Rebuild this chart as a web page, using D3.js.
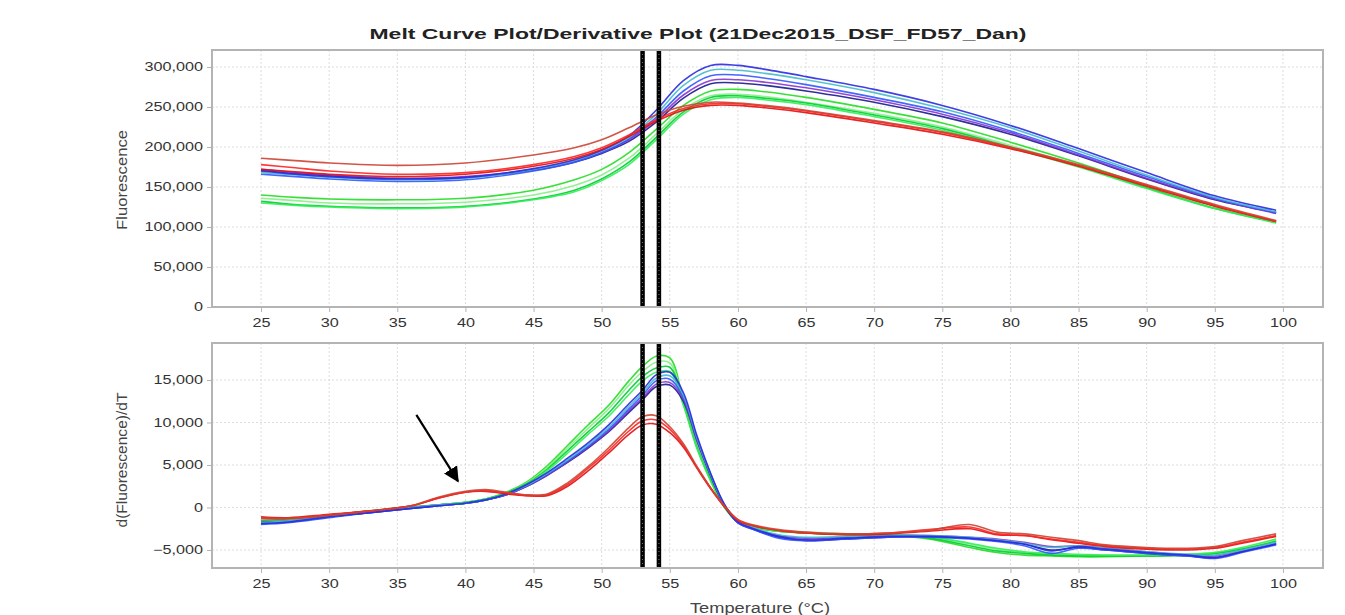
<!DOCTYPE html>
<html>
<head>
<meta charset="utf-8">
<script src="https://cdn.jsdelivr.net/npm/d3@7"></script>
<style>
  body { margin: 0; background: #fff; }
  text { font-family: Arial, "Liberation Sans", sans-serif; }
</style>
</head>
<body>
<svg id="chart" width="1345" height="615"></svg>
<script>
// temperatures (°C) for the two panels
var tempTop = [25, 27.5, 30, 35, 40, 45, 48, 50, 52, 54, 56, 58, 60, 62, 65, 70, 75, 80, 85, 90, 95, 99.5];
var tempDeriv = [25, 27, 30, 33, 36, 38, 40, 41.5, 43, 44.5, 46, 47.5, 49, 50.5, 52, 53, 54, 55, 56, 57, 58, 59, 60, 61, 63, 65, 68, 71, 74, 77, 79, 81, 83, 85, 87, 90, 93, 95, 97, 99.5];

// tick labels
var tempTicks = [25, 30, 35, 40, 45, 50, 55, 60, 65, 70, 75, 80, 85, 90, 95, 100];
var fluorTicks = [0, 50000, 100000, 150000, 200000, 250000, 300000];
var derivTicks = [-5000, 0, 5000, 10000, 15000];

// melt curves (fluorescence)
var fluorGreen1 = [140000,137000,135000,134000,136000,146000,159000,172000,193000,222000,252000,270000,272000,269000,262000,247000,230000,206000,180000,152000,126000,107000];
var fluorGreen2 = [136000,133000,130000,129000,131000,140000,152000,165000,186000,216000,247000,264000,266000,263000,256000,242000,225000,202000,177000,150000,124000,106000];
var fluorGreen3 = [132000,128000,126000,124000,126000,135000,146000,160000,181000,212000,244000,262000,264000,261000,255000,240000,223000,200000,176000,149000,123000,106000];
var fluorGreen4 = [130000,127000,125000,123000,125000,134000,144000,158000,178000,209000,241000,259000,262000,259000,253000,238000,221000,199000,175000,148000,123000,105000];
var fluorBlue1 = [170000,166000,163000,160000,162000,173000,184000,196000,214000,246000,283000,302000,302000,297000,288000,272000,252000,227000,198000,168000,139000,121000];
var fluorCyan = [168000,165000,162000,159000,161000,172000,183000,195000,212000,241000,277000,296000,296000,292000,284000,268000,248000,224000,195000,165000,137000,119000];
var fluorBlue2 = [166000,163000,160000,157000,159000,170000,181000,193000,210000,237000,270000,289000,290000,286000,278000,262000,244000,220000,192000,163000,136000,118000];
var fluorPurple = [172000,168000,165000,161000,163000,172000,182000,193000,209000,234000,265000,283000,284000,281000,274000,259000,241000,218000,190000,161000,135000,117000];
var fluorNavy = [171000,167000,164000,160000,162000,171000,181000,192000,207000,231000,261000,279000,280000,277000,270000,256000,238000,216000,189000,160000,134000,118000];
var fluorRed1 = [186000,183000,180000,177000,180000,190000,199000,209000,224000,240000,251000,256000,255000,252000,246000,233000,219000,200000,178000,153000,128000,108000];
var fluorRed2 = [178000,174000,170000,166000,168000,178000,188000,199000,215000,234000,248000,254000,254000,251000,245000,232000,218000,199000,177000,152000,127000,107000];
var fluorRed3 = [172000,169000,166000,163000,166000,176000,186000,197000,213000,232000,246000,252000,252000,249000,243000,230000,216000,198000,176000,151000,126000,107000];

// derivative curves d(F)/dT
var derivGreen1 = [-1600,-1500,-1000,-500,0,300,600,1000,1800,3000,4900,7300,9700,12000,14900,16600,17800,17600,12600,7200,3300,200,-1600,-2200,-2800,-3000,-3200,-3300,-3700,-4700,-5300,-5600,-5700,-5800,-5800,-5700,-5600,-5400,-4900,-3900];
var derivGreen2 = [-1800,-1600,-1100,-500,0,300,600,1000,1700,2900,4700,7000,9300,11600,14400,16000,17100,17000,12400,7100,3200,100,-1600,-2200,-2700,-2900,-3100,-3200,-3500,-4300,-4900,-5300,-5500,-5600,-5600,-5600,-5500,-5300,-4800,-3800];
var derivGreen3 = [-1500,-1400,-900,-400,100,300,600,1000,1700,2800,4500,6700,8900,11100,13800,15400,16400,16500,12200,7000,3200,100,-1700,-2300,-2800,-3000,-3200,-3300,-3600,-4500,-5100,-5400,-5600,-5700,-5700,-5700,-5600,-5400,-4900,-4000];
var derivGreen4 = [-1700,-1500,-1000,-500,0,300,600,1000,1600,2700,4300,6400,8600,10700,13300,14900,15900,16000,12000,6900,3100,0,-1700,-2300,-2800,-3000,-3100,-3200,-3400,-4200,-4800,-5200,-5400,-5500,-5600,-5600,-5500,-5300,-4700,-3700];
var derivBlue1 = [-1900,-1700,-1100,-600,-100,200,500,900,1600,2700,4100,5800,7600,9700,12200,13800,15600,15900,13500,8400,4000,400,-1700,-2400,-3400,-3800,-3600,-3400,-3400,-3600,-3900,-4300,-5100,-4600,-4900,-5300,-5600,-5900,-5200,-4300];
var derivCyan = [-1800,-1600,-1100,-500,0,300,500,900,1600,2600,4000,5600,7400,9400,11900,13500,15200,15500,13200,8200,3900,400,-1600,-2300,-3200,-3500,-3400,-3300,-3300,-3500,-3800,-4200,-4700,-4500,-4800,-5200,-5500,-5600,-5000,-4100];
var derivBlue2 = [-2000,-1800,-1200,-600,-100,200,500,900,1500,2600,3900,5500,7200,9200,11600,13200,14900,15100,13000,8100,3900,300,-1800,-2500,-3600,-3900,-3700,-3500,-3500,-3700,-4000,-4500,-5400,-4800,-5000,-5400,-5700,-6000,-5300,-4400];
var derivPurple = [-1700,-1600,-1100,-500,0,300,500,900,1500,2500,3800,5400,7100,9000,11400,12900,14500,14700,12700,7900,3800,300,-1700,-2400,-3300,-3600,-3500,-3300,-3300,-3500,-3700,-4100,-4600,-4500,-4800,-5200,-5600,-5700,-5100,-4200];
var derivNavy = [-1800,-1700,-1100,-600,-100,200,500,900,1500,2500,3800,5300,7000,8900,11200,12700,14200,14400,12500,7800,3700,200,-1800,-2500,-3500,-3900,-3700,-3500,-3400,-3600,-3900,-4300,-5000,-4700,-5000,-5400,-5700,-5900,-5200,-4300];
var derivRed1 = [-1200,-1300,-900,-400,200,1200,1900,2100,1800,1500,1600,2900,4800,7000,9400,10700,10800,9500,7500,4800,2300,200,-1400,-2000,-2600,-2900,-3100,-3000,-2700,-2000,-2900,-3100,-3500,-3900,-4400,-4700,-4800,-4600,-3900,-3100];
var derivRed2 = [-1300,-1300,-900,-400,200,1100,1800,2000,1700,1400,1500,2700,4600,6700,9000,10200,10300,9200,7300,4700,2300,200,-1500,-2100,-2700,-3000,-3100,-3000,-2600,-2300,-3100,-3300,-3700,-4100,-4500,-4800,-4900,-4700,-4100,-3300];
var derivRed3 = [-1100,-1200,-800,-400,200,1100,1800,1900,1600,1400,1400,2500,4300,6400,8600,9700,9800,8800,7100,4600,2200,100,-1500,-2100,-2700,-3000,-3200,-3100,-2800,-2500,-3200,-3300,-3800,-4200,-4600,-4900,-5000,-4800,-4200,-3400];

// melt temperature markers and the annotation arrow (data coordinates)
var meltTemps = [53.0, 54.2];
var arrowStart = [36.4, 10900];
var arrowTip = [39.45, 3100];

var series = [
  {color: "#22dd22", fluor: fluorGreen1, deriv: derivGreen1},
  {color: "#88ee88", fluor: fluorGreen2, deriv: derivGreen2},
  {color: "#00cc33", fluor: fluorGreen3, deriv: derivGreen3},
  {color: "#33ee55", fluor: fluorGreen4, deriv: derivGreen4},
  {color: "#1a1a90", fluor: fluorNavy, deriv: derivNavy},
  {color: "#8833cc", fluor: fluorPurple, deriv: derivPurple},
  {color: "#3355ff", fluor: fluorBlue2, deriv: derivBlue2},
  {color: "#44bbcc", fluor: fluorCyan, deriv: derivCyan},
  {color: "#2a2ae0", fluor: fluorBlue1, deriv: derivBlue1},
  {color: "#e01010", fluor: fluorRed3, deriv: derivRed3},
  {color: "#ff2222", fluor: fluorRed2, deriv: derivRed2},
  {color: "#cc4433", fluor: fluorRed1, deriv: derivRed1}
];

var svg = d3.select("#chart");
var left = 212, right = 1323;
var stretch = 1.35; // the picture is stretched sideways

var x = d3.scaleLinear().domain([21.4, 102.94]).range([left, right]);
var yTop = d3.scaleLinear().domain([0, 321250]).range([307, 50]);
var yBot = d3.scaleLinear().domain([-7118, 19353]).range([568, 343]);

function stretchText(sel) {
  sel.each(function() {
    var w = this.getComputedTextLength();
    d3.select(this).attr("textLength", w * stretch).attr("lengthAdjust", "spacingAndGlyphs");
  });
}

function panel(y, ticks, top, bottom, key, temps) {
  var g = svg.append("g");
  g.append("rect")
    .attr("x", left).attr("y", top)
    .attr("width", right - left).attr("height", bottom - top)
    .attr("fill", "#fff");

  // grid
  g.selectAll(".vg").data(tempTicks).enter().append("line")
    .attr("x1", function(d) { return x(d); }).attr("x2", function(d) { return x(d); })
    .attr("y1", top).attr("y2", bottom)
    .attr("stroke", "#dcdcdc").attr("stroke-dasharray", "2,2");
  g.selectAll(".hg").data(ticks).enter().append("line")
    .attr("x1", left).attr("x2", right)
    .attr("y1", function(d) { return y(d); }).attr("y2", function(d) { return y(d); })
    .attr("stroke", "#dcdcdc").attr("stroke-dasharray", "2,2");

  // curves
  var line = d3.line()
    .x(function(d, i) { return x(temps[i]); })
    .y(function(d) { return y(d); })
    .curve(d3.curveCatmullRom.alpha(0.5));
  g.selectAll(".curve").data(series).enter().append("path")
    .attr("fill", "none")
    .attr("stroke", function(d) { return d.color; })
    .attr("stroke-width", 1.6)
    .attr("stroke-opacity", 0.9)
    .attr("d", function(d) { return line(d[key]); });

  // melt temperature markers
  meltTemps.forEach(function(t) {
    g.append("line")
      .attr("x1", x(t)).attr("x2", x(t)).attr("y1", top).attr("y2", bottom)
      .attr("stroke", "#000").attr("stroke-width", 4.5);
    g.append("line")
      .attr("x1", x(t)).attr("x2", x(t)).attr("y1", top).attr("y2", bottom)
      .attr("stroke", "#777").attr("stroke-width", 1).attr("stroke-dasharray", "1,3");
  });

  // frame
  g.append("rect")
    .attr("x", left).attr("y", top)
    .attr("width", right - left).attr("height", bottom - top)
    .attr("fill", "none").attr("stroke", "#b4b4b4").attr("stroke-width", 2);

  // axes
  var ya = g.append("g").attr("transform", "translate(" + (left - 1) + ",0)")
    .call(d3.axisLeft(y).tickValues(ticks).tickFormat(d3.format(",")).tickSize(4).tickPadding(4));
  var xa = g.append("g").attr("transform", "translate(0," + (bottom + 1) + ")")
    .call(d3.axisBottom(x).tickValues(tempTicks).tickFormat(d3.format("d")).tickSize(4).tickPadding(6));
  [ya, xa].forEach(function(a) {
    a.select(".domain").remove();
    a.selectAll("line").attr("stroke", "#b4b4b4");
    a.selectAll("text").attr("fill", "#333").style("font-size", "12px").call(stretchText);
  });
  return g;
}

var topPanel = panel(yTop, fluorTicks, 50, 307, "fluor", tempTop);
var botPanel = panel(yBot, derivTicks, 343, 568, "deriv", tempDeriv);

// arrow
svg.append("defs").append("marker")
  .attr("id", "head").attr("viewBox", "0 0 10 10")
  .attr("refX", 9).attr("refY", 5)
  .attr("markerWidth", 7).attr("markerHeight", 7)
  .attr("markerUnits", "strokeWidth")
  .attr("orient", "auto")
  .append("path").attr("d", "M0,0 L10,5 L0,10 Z").attr("fill", "#000");
svg.append("line")
  .attr("x1", x(arrowStart[0])).attr("y1", yBot(arrowStart[1]))
  .attr("x2", x(arrowTip[0])).attr("y2", yBot(arrowTip[1]))
  .attr("stroke", "#000").attr("stroke-width", 2.2)
  .attr("marker-end", "url(#head)");

// titles
svg.append("text")
  .attr("x", 698).attr("y", 39).attr("text-anchor", "middle")
  .style("font-size", "15px").style("font-weight", "bold").attr("fill", "#222")
  .attr("textLength", 657).attr("lengthAdjust", "spacingAndGlyphs")
  .text("Melt Curve Plot/Derivative Plot (21Dec2015_DSF_FD57_Dan)");

svg.append("text")
  .attr("x", 760).attr("y", 613).attr("text-anchor", "middle")
  .style("font-size", "14px").attr("fill", "#444")
  .attr("textLength", 140).attr("lengthAdjust", "spacingAndGlyphs")
  .text("Temperature (°C)");

svg.append("text")
  .attr("transform", "translate(127,180) rotate(-90)").attr("text-anchor", "middle")
  .style("font-size", "14px").attr("fill", "#444")
  .attr("textLength", 100).attr("lengthAdjust", "spacingAndGlyphs")
  .text("Fluorescence");

svg.append("text")
  .attr("transform", "translate(127,460) rotate(-90)").attr("text-anchor", "middle")
  .style("font-size", "14px").attr("fill", "#444")
  .attr("textLength", 135).attr("lengthAdjust", "spacingAndGlyphs")
  .text("d(Fluorescence)/dT");
</script>
</body>
</html>
